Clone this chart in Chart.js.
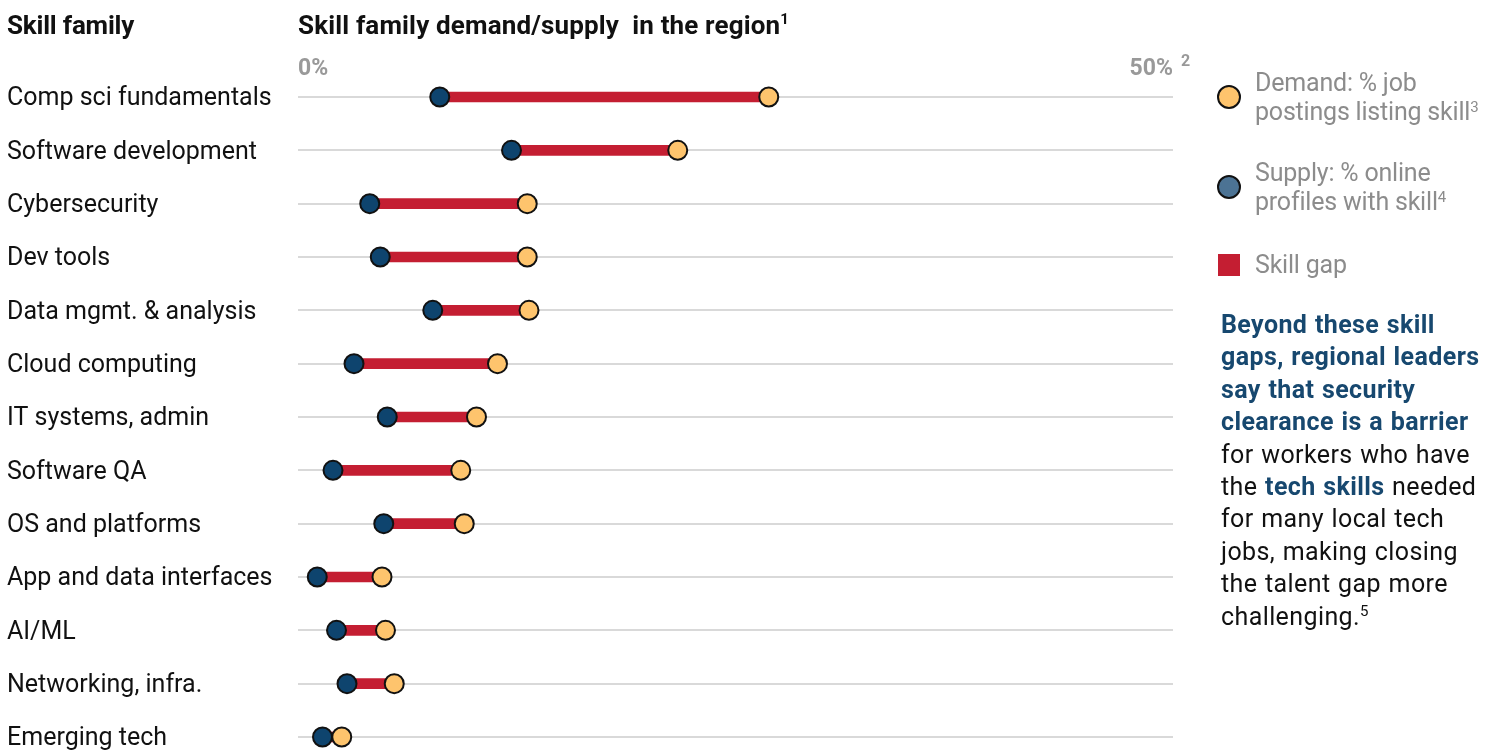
<!DOCTYPE html>
<html>
<head>
<meta charset="utf-8">
<script src="https://cdn.jsdelivr.net/npm/chart.js@4.4.1/dist/chart.umd.min.js"></script>
<style>
  body { margin: 0; background: #fff; font-family: Roboto, "Noto Sans", sans-serif; }
  #wrap { position: relative; width: 1502px; height: 753px; overflow: hidden; }
  #chartBox { position: absolute; left: 0; top: 0; width: 1502px; height: 753px; }
  .hdr { position: absolute; top: 9px; font-weight: 700; font-size: 26px; line-height: 32px; color: #111; white-space: nowrap; letter-spacing: -0.2px; }
  .hdr sup { font-size: 15px; vertical-align: 10px; line-height: 0; }
  .leg { position: absolute; left: 1255px; font-size: 25px; line-height: 29px; color: #8c8c8c; white-space: nowrap; letter-spacing: -0.2px; }
  .leg sup { font-size: 15px; vertical-align: 8px; line-height: 0; }
  .dot { position: absolute; width: 20px; height: 20px; border-radius: 50%; border: 2px solid #111; }
  .note { position: absolute; left: 1221px; top: 309px; font-size: 25px; line-height: 32.4px; color: #111; white-space: nowrap; letter-spacing: 0.4px; word-spacing: 1px; }
  .note b { color: #17486f; }
  .note sup { font-size: 15px; vertical-align: 9px; line-height: 0; }
</style>
</head>
<body>
<div id="wrap">
  <div id="chartBox"><canvas id="gapChart"></canvas></div>
  <div class="hdr" style="left:7px">Skill family</div>
  <div class="hdr" style="left:298px; letter-spacing:0.15px">Skill family demand/supply&nbsp; in the region<sup>1</sup></div>

  <div class="dot" style="left:1217px; top:85px; background:#fec46d"></div>
  <div class="leg" style="top:68px">Demand: % job<br>postings listing skill<sup>3</sup></div>
  <div class="dot" style="left:1217px; top:175px; background:#4c7394"></div>
  <div class="leg" style="top:158px">Supply: % online<br>profiles with skill<sup>4</sup></div>
  <div style="position:absolute; left:1218px; top:254px; width:22px; height:22px; background:#c41e32"></div>
  <div class="leg" style="top:250px">Skill gap</div>

  <div class="note"><b>Beyond these skill<br>gaps, regional leaders<br>say that security<br>clearance is a barrier</b><br>for workers who have<br>the <b>tech skills</b> needed<br>for many local tech<br>jobs, making closing<br>the talent gap more<br>challenging.<sup>5</sup></div>
</div>
<script>
const skillFamilies = [
  "Comp sci fundamentals", "Software development", "Cybersecurity", "Dev tools",
  "Data mgmt. & analysis", "Cloud computing", "IT systems, admin", "Software QA",
  "OS and platforms", "App and data interfaces", "AI/ML", "Networking, infra.", "Emerging tech"
]
// % of job postings listing the skill
const demandPct = [26.9, 21.7, 13.1, 13.1, 13.2, 11.4, 10.2, 9.3, 9.5, 4.8, 5.0, 5.5, 2.5]
// % of online profiles with the skill
const supplyPct = [8.1, 12.2, 4.1, 4.7, 7.7, 3.2, 5.1, 2.0, 4.9, 1.1, 2.2, 2.8, 1.4]
const axisTicks = [0, 50]

const toPoints = (vals) => vals.map((v, i) => ({ x: v, y: skillFamilies[i] }))

// footnote marker next to the 50% tick
const superscriptPlugin = {
  id: "superscript",
  afterDraw(chart) {
    const ctx = chart.ctx
    const xs = chart.scales.x
    ctx.save()
    ctx.fillStyle = "#999"
    ctx.font = "bold 16px Roboto"
    ctx.textBaseline = "middle"
    ctx.fillText("2", xs.getPixelForValue(axisTicks[1]) + 8, 62)
    ctx.restore()
  }
}

new Chart(document.getElementById("gapChart"), {
  type: "bar",
  data: {
    labels: skillFamilies,
    datasets: [
      {
        type: "line",
        label: "Demand",
        data: toPoints(demandPct),
        showLine: false,
        pointRadius: 9.5,
        pointBackgroundColor: "#fec46d",
        pointBorderColor: "#111",
        pointBorderWidth: 2,
        clip: false
      },
      {
        type: "line",
        label: "Supply",
        data: toPoints(supplyPct),
        showLine: false,
        pointRadius: 9.5,
        pointBackgroundColor: "#0e446e",
        pointBorderColor: "#111",
        pointBorderWidth: 2,
        clip: false
      },
      {
        label: "Skill gap",
        data: supplyPct.map((s, i) => [s, demandPct[i]]),
        backgroundColor: "#c41e32",
        barThickness: 10,
        borderSkipped: false,
        clip: false
      }
    ]
  },
  options: {
    indexAxis: "y",
    responsive: true,
    maintainAspectRatio: false,
    animation: false,
    layout: { padding: { left: 7, right: 329, top: 0, bottom: 16 } },
    plugins: {
      legend: { display: false },
      tooltip: { enabled: false }
    },
    scales: {
      x: {
        type: "linear",
        position: "top",
        min: axisTicks[0],
        max: axisTicks[1],
        afterBuildTicks: (scale) => { scale.ticks = axisTicks.map(v => ({ value: v })) },
        afterFit: (scale) => { scale.height = 97 },
        grid: { display: false, drawTicks: false },
        border: { display: false },
        ticks: {
          align: "inner",
          padding: 14,
          color: "#999",
          font: { family: "Roboto", size: 23, weight: "bold" },
          callback: (v) => v + "%"
        }
      },
      y: {
        type: "category",
        offset: false,
        afterFit: (scale) => { scale.width = 291 },
        grid: { color: "#d9d9d9", lineWidth: 2, drawTicks: false, offset: false },
        border: { display: false },
        ticks: {
          crossAlign: "far",
          padding: 0,
          labelOffset: 2,
          color: "#111",
          font: { family: "Roboto", size: 25 }
        }
      }
    }
  },
  plugins: [superscriptPlugin]
})
</script>
</body>
</html>
